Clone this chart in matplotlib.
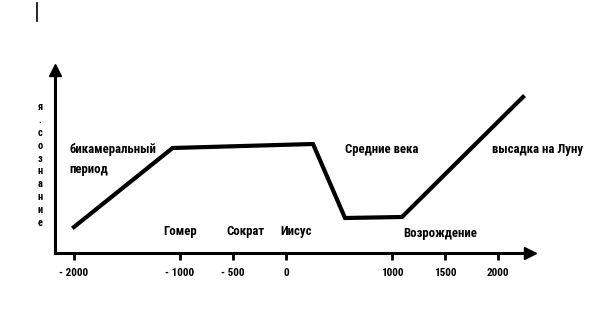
import matplotlib
matplotlib.use("Agg")
import matplotlib.pyplot as plt
from matplotlib.lines import Line2D

# data (year, level of consciousness in arbitrary units)
years = [-2000, -1070, 255, 557, 1094, 2236]
level = [26, 105, 109, 35, 36, 156]

tick_years = [-2000, -1000, -500, 0, 1000, 1500, 2000]
tick_labels = ["- 2000", "- 1000", "- 500", "0", "1000", "1500", "2000"]

# event labels: (text, year, level)
events = [
    ("бикамеральный", -2047, 103),
    ("период", -2047, 84),
    ("Гомер", -1160, 22),
    ("Сократ", -566, 22),
    ("Иисус", -57, 22),
    ("Средние века", 557, 103),
    ("высадка на Луну", 1943, 103),
    ("Возрождение", 1104, 20),
]
ylabel = "я.сознание"

FONT = ["Roboto Condensed", "Roboto", "DejaVu Sans"]

fig = plt.figure(figsize=(5.92, 3.35), dpi=100)
ax = fig.add_axes([0, 0, 1, 1])
ax.set_xlim(-2698, 2887)
ax.set_ylim(-82, 253)

# axes drawn as arrows
x_start, x_end = -2180, 2300
y_top = 183
ax.spines["top"].set_visible(False)
ax.spines["right"].set_visible(False)
ax.spines["left"].set_position(("data", x_start))
ax.spines["bottom"].set_position(("data", 0))
ax.spines["left"].set_bounds(0, y_top)
ax.spines["bottom"].set_bounds(x_start, x_end)
for s in ("left", "bottom"):
    ax.spines[s].set_linewidth(2.2)
ax.plot(x_end, 0, marker=">", color="black", markersize=9, clip_on=False)
ax.plot(x_start, y_top, marker="^", color="black", markersize=9, clip_on=False)

ax.set_yticks([])
ax.set_xticks(tick_years)
ax.set_xticklabels(tick_labels, fontfamily=FONT, fontweight="bold", fontsize=8)
ax.tick_params(axis="x", direction="out", length=5, width=2, pad=6)

# the curve
ax.plot(years, level, color="black", linewidth=3, solid_joinstyle="miter")

for txt, x, y in events:
    ax.text(x, y, txt, ha="left", va="center", fontsize=9.2,
            fontweight="bold", family=FONT)

# vertical stacked y label
ax.text(-2321, 88, "\n".join(ylabel), ha="center", va="center",
        fontsize=7.5, fontweight="bold", family=FONT, linespacing=1.35)

# stray mark at the top left
fig.add_artist(Line2D([37 / 592, 37 / 592], [1 - 3 / 335, 1 - 21 / 335],
                      color="black", linewidth=1.2))

fig.savefig("out.png", dpi=100)
